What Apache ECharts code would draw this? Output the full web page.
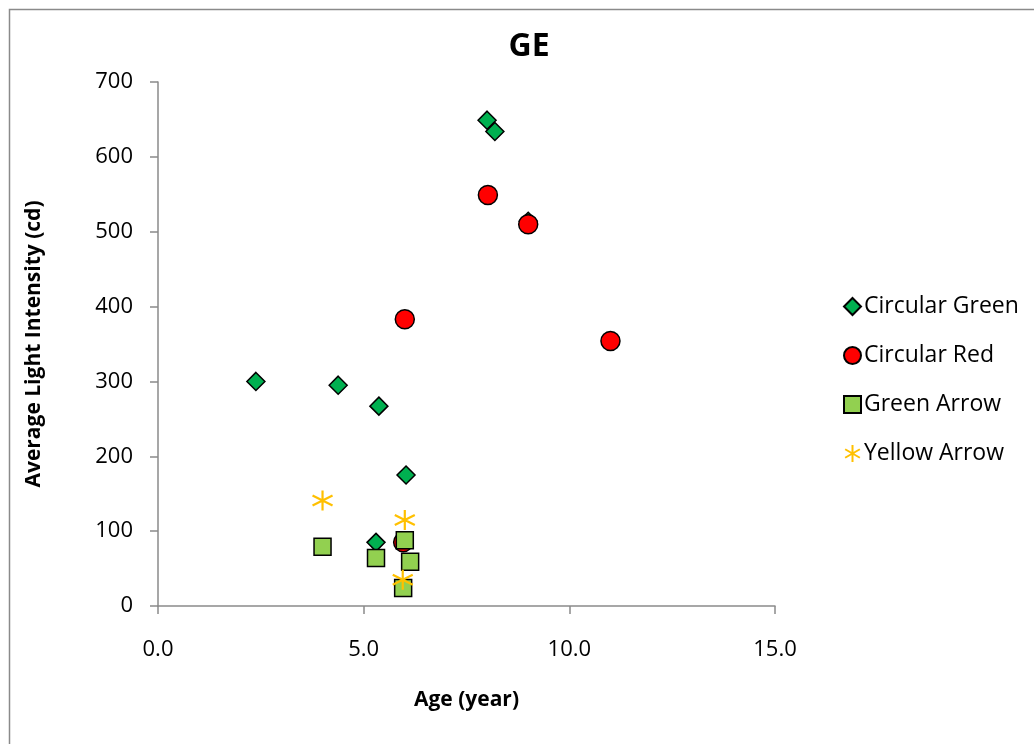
<!DOCTYPE html>
<html>
<head>
<meta charset="utf-8">
<script src="https://cdn.jsdelivr.net/npm/echarts@6/dist/echarts.min.js"></script>
<style>html,body{margin:0;padding:0;background:#fff;}#c{width:1034px;height:744px;}</style>
</head>
<body>
<div id="c"></div>
<script>
const seriesNames = ['Circular Green', 'Circular Red', 'Green Arrow', 'Yellow Arrow'];
const circularGreen = [[2.38, 300], [4.38, 295], [5.37, 267], [6.03, 175], [5.30, 85], [8.0, 649], [8.19, 634], [9.0, 514]];
const circularRed = [[8.02, 549], [9.0, 510], [6.0, 383], [11.0, 354], [5.96, 85]];
const greenArrow = [[4.0, 79], [5.3, 64], [6.0, 88], [6.13, 59], [5.96, 24]];
const yellowArrow = [[4.0, 141], [6.0, 115], [5.95, 35]];
const xTicks = [0, 5, 10, 15];
const yTicks = [0, 100, 200, 300, 400, 500, 600, 700];

const FONT = '"Open Sans", sans-serif';
const asterisk = 'path://M0,-10 L0,10 M-8.66,-5 L8.66,5 M-8.66,5 L8.66,-5';

const chart = echarts.init(document.getElementById('c'), null, {renderer: 'canvas'});
chart.setOption({
  animation: false,
  backgroundColor: '#fff',
  textStyle: {fontFamily: FONT},
  graphic: [{
    type: 'rect', left: 7, top: 7, z: -1,
    shape: {width: 1060, height: 760},
    style: {fill: 'none', stroke: '#8a8a8a', lineWidth: 1.5}
  }],
  title: {
    text: 'GE', left: 524, top: 26, textAlign: 'center',
    textStyle: {fontFamily: FONT, fontSize: 32, fontWeight: 'bold', color: '#000'}
  },
  grid: {left: 158, top: 82, width: 617, height: 524, containLabel: false},
  xAxis: {
    type: 'value', min: 0, max: 15, interval: 5,
    name: 'Age (year)', nameLocation: 'middle', nameGap: 84,
    nameTextStyle: {fontFamily: FONT, fontSize: 21, fontWeight: 'bold', color: '#000'},
    axisLine: {show: true, lineStyle: {color: '#8a8a8a', width: 1.5}},
    axisTick: {show: true, length: 8, lineStyle: {color: '#8a8a8a', width: 1.5}},
    axisLabel: {fontFamily: FONT, fontSize: 22, color: '#000', margin: 33, formatter: v => xTicks.includes(v) ? v.toFixed(1) : ''},
    splitLine: {show: false}
  },
  yAxis: {
    type: 'value', min: 0, max: 700, interval: 100,
    name: 'Average Light Intensity (cd)', nameLocation: 'middle', nameGap: 113, nameRotate: 90,
    nameTextStyle: {fontFamily: FONT, fontSize: 21, fontWeight: 'bold', color: '#000'},
    axisLine: {show: true, lineStyle: {color: '#8a8a8a', width: 1.5}},
    axisTick: {show: true, length: 8, inside: false, lineStyle: {color: '#8a8a8a', width: 1.5}},
    axisLabel: {fontFamily: FONT, fontSize: 22, color: '#000', margin: 25, formatter: v => yTicks.includes(v) ? String(v) : ''},
    splitLine: {show: false}
  },
  legend: {
    orient: 'vertical', left: 838, top: 290, itemGap: 26, itemWidth: 17, itemHeight: 17,
    textStyle: {fontFamily: FONT, fontSize: 23, color: '#000', padding: [0, 0, 0, -2]},
    data: seriesNames
  },
  series: [
    {name: seriesNames[0], type: 'scatter', data: circularGreen, symbol: 'diamond', symbolSize: 18,
     itemStyle: {color: '#00B050', borderColor: '#000', borderWidth: 1.5, opacity: 1}, z: 2},
    {name: seriesNames[1], type: 'scatter', data: circularRed, symbol: 'circle', symbolSize: 19,
     itemStyle: {color: '#FF0000', borderColor: '#000', borderWidth: 1.5, opacity: 1}, z: 3},
    {name: seriesNames[2], type: 'scatter', data: greenArrow, symbol: 'rect', symbolSize: 17,
     itemStyle: {color: '#92D050', borderColor: '#000', borderWidth: 1.5, opacity: 1}, z: 4},
    {name: seriesNames[3], type: 'scatter', data: yellowArrow, symbol: asterisk, symbolSize: 20,
     itemStyle: {color: '#FFC000', borderColor: '#FFC000', borderWidth: 2.2, opacity: 1}, z: 5}
  ]
});
</script>
</body>
</html>
